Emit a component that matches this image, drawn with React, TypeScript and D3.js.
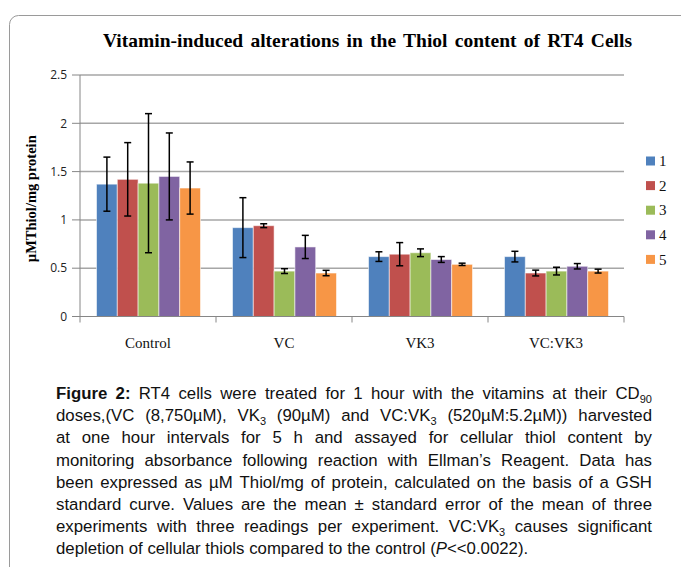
import React, { useLayoutEffect, useRef } from "react";
import * as d3 from "d3";

const categories = ["Control", "VC", "VK3", "VC:VK3"];
const seriesNames = ["1", "2", "3", "4", "5"];
const seriesColors = ["#4F81BD", "#C0504D", "#9BBB59", "#8064A2", "#F79646"];
// values[category][series]
const meanControl = [1.37, 1.42, 1.38, 1.45, 1.33];
const meanVC = [0.92, 0.94, 0.47, 0.72, 0.45];
const meanVK3 = [0.62, 0.645, 0.66, 0.59, 0.54];
const meanVCVK3 = [0.62, 0.45, 0.47, 0.52, 0.47];
const errControl = [0.28, 0.38, 0.72, 0.45, 0.27];
const errVC = [0.31, 0.02, 0.025, 0.12, 0.028];
const errVK3 = [0.05, 0.12, 0.04, 0.03, 0.012];
const errVCVK3 = [0.055, 0.03, 0.04, 0.028, 0.02];
const yTicks = [0, 0.5, 1, 1.5, 2, 2.5];

const means = [meanControl, meanVC, meanVK3, meanVCVK3];
const errs = [errControl, errVC, errVK3, errVCVK3];

const title = "Vitamin-induced alterations in the Thiol content of RT4 Cells";
const yTitle = "µMThiol/mg protein";

type Seg = { t: string; b?: boolean; i?: boolean; sub?: boolean };
const captionLines: Seg[][] = [
  [{ t: "Figure 2:", b: true }, { t: " RT4 cells were treated for 1 hour with the vitamins at their CD" }, { t: "90", sub: true }],
  [{ t: "doses,(VC (8,750µM), VK" }, { t: "3", sub: true }, { t: " (90µM) and VC:VK" }, { t: "3", sub: true }, { t: " (520µM:5.2µM)) harvested" }],
  [{ t: "at one hour intervals for 5 h and assayed for cellular thiol content by" }],
  [{ t: "monitoring absorbance following reaction with Ellman’s Reagent. Data has" }],
  [{ t: "been expressed as µM Thiol/mg of protein, calculated on the basis of a GSH" }],
  [{ t: "standard curve. Values are the mean ± standard error of the mean of three" }],
  [{ t: "experiments with three readings per experiment. VC:VK" }, { t: "3", sub: true }, { t: " causes significant" }],
  [{ t: "depletion of cellular thiols compared to the control (" }, { t: "P", i: true }, { t: "<<0.0022)." }],
];

function toWords(line: Seg[]): Seg[][] {
  const words: Seg[][] = [];
  let cur: Seg[] = [];
  line.forEach((seg) => {
    if (seg.sub) { cur.push(seg); return; }
    seg.t.split(" ").forEach((p, idx) => {
      if (idx > 0) { if (cur.length) words.push(cur); cur = []; }
      if (p) cur.push({ ...seg, t: p });
    });
  });
  if (cur.length) words.push(cur);
  return words;
}

const captionWords = captionLines.map(toWords);

export default function App() {
  const W = 681, H = 567;
  const x0 = d3.scaleBand<string>().domain(categories).range([80, 624]).paddingInner(0).paddingOuter(0);
  const x1 = d3.scaleBand<string>().domain(seriesNames).range([16.5, 120.5]);
  const y = d3.scaleLinear().domain([0, 2.5]).range([316.5, 75]);
  const capRef = useRef<SVGGElement>(null);
  const titleRef = useRef<SVGTextElement>(null);

  const capLeft = 56, capRight = 652;
  const capFont = 16.8;

  useLayoutEffect(() => {
    const g = capRef.current;
    if (g) {
      const lines = Array.from(g.querySelectorAll("g.capline")) as SVGGElement[];
      lines.forEach((lg, li) => {
        const ws = Array.from(lg.querySelectorAll("text")) as SVGTextElement[];
        const widths = ws.map((w) => w.getComputedTextLength());
        const total = widths.reduce((a, b) => a + b, 0);
        const last = li === lines.length - 1;
        let gap = capFont * 0.278;
        if (!last && ws.length > 1) gap = (capRight - capLeft - total) / (ws.length - 1);
        let xx = capLeft;
        ws.forEach((w, k) => {
          w.setAttribute("x", String(xx));
          xx += widths[k] + gap;
        });
      });
    }
    const t = titleRef.current;
    if (t) {
      t.setAttribute("word-spacing", "0");
      const w = t.getComputedTextLength();
      const spaces = title.split(" ").length - 1;
      t.setAttribute("word-spacing", String((529 - w) / spaces));
    }
  }, []);

  const axisColor = "#868686";
  const gridColor = "#a6a6a6";

  return (
    <svg width={W} height={H} style={{ position: "absolute", left: 0, top: 0, background: "#fff" }}>
      <rect x={9.5} y={15.5} width={700} height={600} rx={9} fill="none" stroke="#9a9a9a" strokeWidth={1} />
      <text ref={titleRef} x={103} y={47} fontFamily="Liberation Serif, Times New Roman, serif" fontWeight="bold" fontSize={19.5} fill="#000">
        {title}
      </text>
      {/* grid */}
      {yTicks.filter((v) => v > 0).map((v) => (
        <line key={"g" + v} x1={80} x2={624} y1={y(v)} y2={y(v)} stroke={gridColor} strokeWidth={1.5} />
      ))}
      {/* y axis */}
      <line x1={80} x2={80} y1={y(2.5)} y2={y(0)} stroke={axisColor} strokeWidth={1} />
      {yTicks.map((v) => (
        <g key={"t" + v}>
          <line x1={72} x2={80} y1={y(v)} y2={y(v)} stroke={axisColor} strokeWidth={1} />
          <text x={67} y={y(v)} dy="0.35em" textAnchor="end" fontFamily="Open Sans, Liberation Sans, sans-serif" fontSize={12} fill="#222">
            {d3.format("")(v)}
          </text>
        </g>
      ))}
      <text transform={`translate(36,${(y(0) + y(2.5)) / 2 + 3}) rotate(-90)`} textAnchor="middle" fontFamily="Liberation Serif, Times New Roman, serif" fontWeight="bold" fontSize={14.5} fill="#000">
        {yTitle}
      </text>
      {/* bars */}
      {categories.map((c, ci) => (
        <g key={c} transform={`translate(${x0(c)},0)`}>
          {seriesNames.map((s, si) => {
            const v = means[ci][si];
            const e = errs[ci][si];
            const bx = x1(s)!;
            const bw = x1.bandwidth();
            const cx = bx + bw / 2;
            return (
              <g key={s}>
                <rect x={bx} y={y(v)} width={bw} height={y(0) - y(v)} fill={seriesColors[si]} stroke="#ffffff" strokeOpacity={0.55} strokeWidth={1} />
                <line x1={cx} x2={cx} y1={y(v + e)} y2={y(v - e)} stroke="#000" strokeWidth={1.5} />
                <line x1={cx - 3.5} x2={cx + 3.5} y1={y(v + e)} y2={y(v + e)} stroke="#000" strokeWidth={1.5} />
                <line x1={cx - 3.5} x2={cx + 3.5} y1={y(v - e)} y2={y(v - e)} stroke="#000" strokeWidth={1.5} />
              </g>
            );
          })}
        </g>
      ))}
      {/* x axis */}
      <line x1={80} x2={624} y1={y(0)} y2={y(0)} stroke={axisColor} strokeWidth={1.2} />
      {[...categories.map((c) => x0(c)!), 624].map((xv, i) => (
        <line key={"xt" + i} x1={xv} x2={xv} y1={y(0)} y2={y(0) + 6} stroke={axisColor} strokeWidth={1} />
      ))}
      {categories.map((c) => (
        <text key={"xl" + c} x={x0(c)! + x0.bandwidth() / 2} y={343} dy="0.35em" textAnchor="middle" fontFamily="Liberation Serif, Times New Roman, serif" fontSize={15} fill="#111">
          {c}
        </text>
      ))}
      {/* legend */}
      {seriesNames.map((s, si) => (
        <g key={"lg" + s} transform={`translate(646,${161 + si * 24.6})`}>
          <rect x={0} y={-4.5} width={9} height={9} fill={seriesColors[si]} />
          <text x={13} y={0} dy="0.35em" fontFamily="Liberation Serif, Times New Roman, serif" fontSize={15} fill="#111">
            {s}
          </text>
        </g>
      ))}
      {/* caption */}
      <g ref={capRef} fontFamily="Liberation Sans, Arial, sans-serif" fontSize={capFont} fill="#111">
        {captionWords.map((words, li) => (
          <g key={"cap" + li} className="capline">
            {words.map((word, wi) => (
              <text key={wi} x={capLeft} y={399 + li * 22.2}>
                {word.map((seg, k) =>
                  seg.sub ? (
                    <tspan key={k} fontSize={11} dy={4}>{seg.t}</tspan>
                  ) : (
                    <tspan key={k} fontWeight={seg.b ? "bold" : undefined} fontStyle={seg.i ? "italic" : undefined} dy={k > 0 && word[k - 1].sub ? -4 : 0}>
                      {seg.t}
                    </tspan>
                  )
                )}
              </text>
            ))}
          </g>
        ))}
      </g>
    </svg>
  );
}
